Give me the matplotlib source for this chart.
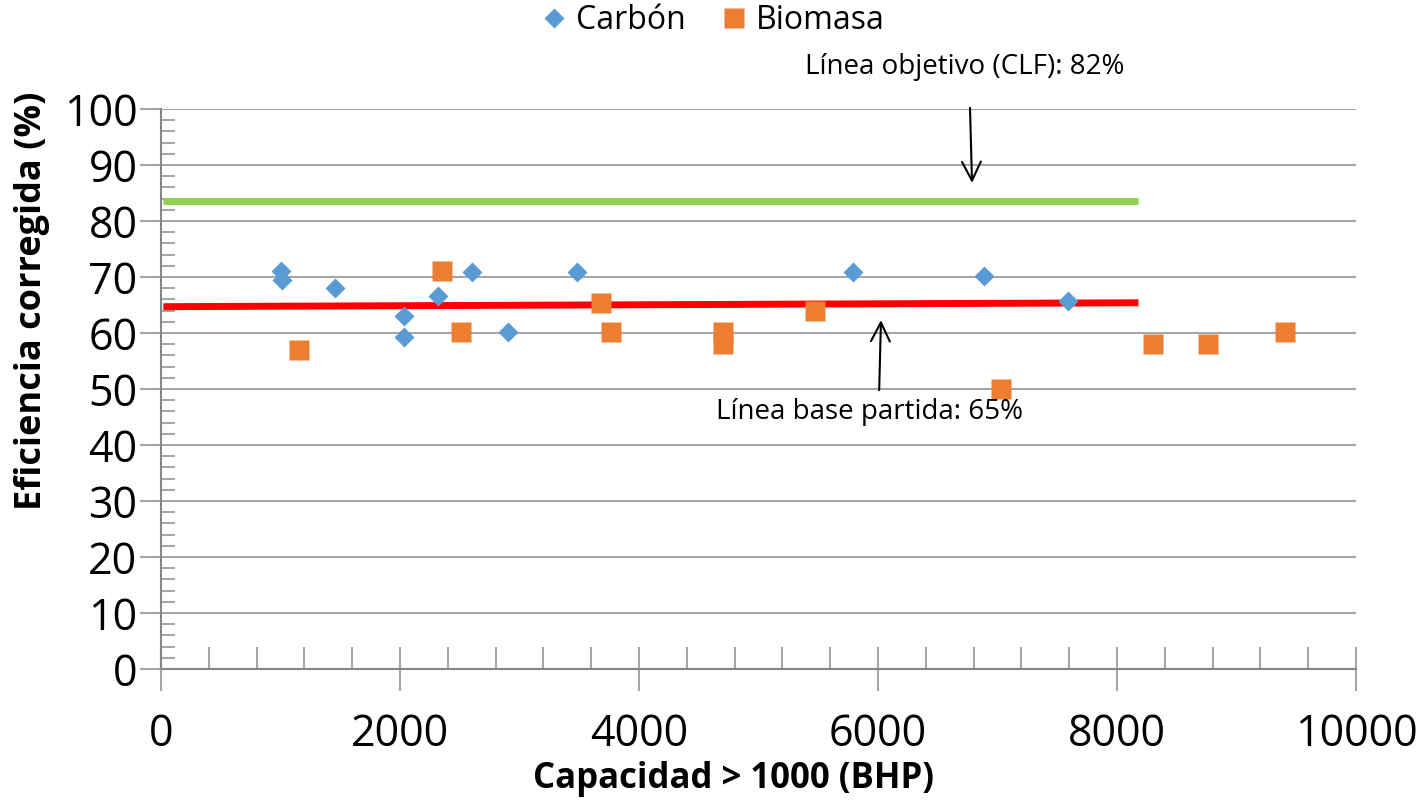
import numpy as np
import matplotlib.pyplot as plt
from matplotlib.ticker import MultipleLocator

plt.rcParams['font.family'] = ['Open Sans', 'DejaVu Sans']

# Carbón (coal) points
carbon_x = [1004, 1013, 1456, 2033, 2033, 2318, 2602, 2904, 3481, 5791, 6887, 7590]
carbon_y = [71.1, 69.5, 68.0, 63.0, 59.3, 66.6, 70.9, 60.2, 70.9, 70.9, 70.2, 65.7]

# Biomasa points
bio_x = [1152, 2349, 2510, 3679, 3766, 4706, 4706, 5470, 7032, 8304, 8764, 9409]
bio_y = [57.0, 71.1, 60.2, 65.4, 60.2, 60.2, 58.0, 64.0, 50.0, 58.0, 58.0, 60.2]

# reference lines
target_x = [20, 8180]
target_y = [83.6, 83.6]
base_x = [20, 8180]
base_y = [64.7, 65.4]

fig = plt.figure(figsize=(14.26, 8), dpi=100)
ax = fig.add_axes([0.1129, 0.16375, 0.838, 0.7])

ax.plot(target_x, target_y, color='#92D050', lw=5, solid_capstyle='butt', zorder=2)
ax.plot(base_x, base_y, color='#FF0000', lw=5, solid_capstyle='butt', zorder=2)
ax.plot(carbon_x, carbon_y, 'D', color='#5B9BD5', markersize=10, mec='none',
        label='Carbón', zorder=3)
ax.plot(bio_x, bio_y, 's', color='#ED7D31', markersize=14, mec='none',
        label='Biomasa', zorder=3)

ax.set_xlim(0, 10000)
ax.set_ylim(0, 100)
ax.xaxis.set_major_locator(MultipleLocator(2000))
ax.xaxis.set_minor_locator(MultipleLocator(400))
ax.yaxis.set_major_locator(MultipleLocator(10))
ax.yaxis.set_minor_locator(MultipleLocator(2))

ax.grid(axis='y', which='major', color='#A6A6A6', lw=1.5)
ax.set_axisbelow(True)
for s in ['top', 'right']:
    ax.spines[s].set_visible(False)
for s in ['left', 'bottom']:
    ax.spines[s].set_color('#868686')
    ax.spines[s].set_linewidth(1.5)

ax.tick_params(axis='y', which='major', direction='out', length=15, width=1.5,
               color='#A6A6A6', labelsize=31, pad=2)
ax.tick_params(axis='y', which='minor', direction='in', length=10, width=1.5,
               color='#A6A6A6')
ax.tick_params(axis='x', which='major', direction='inout', length=32, width=1.5,
               color='#A6A6A6', labelsize=31, pad=15)
ax.tick_params(axis='x', which='minor', direction='in', length=16, width=1.5,
               color='#A6A6A6')

ax.set_xlabel('Capacidad > 1000 (BHP)', fontsize=25, fontweight='bold', va='center')
ax.set_ylabel('Eficiencia corregida (%)', fontsize=26, fontweight='bold', va='center')
ax.xaxis.set_label_coords(0.479, -0.197)
ax.yaxis.set_label_coords(-0.108, 0.657)

# annotations
ax.text(5389, 107.5, 'Línea objetivo (CLF): 82%', fontsize=20, ha='left',
        va='center', clip_on=False)
ax.annotate('', xy=(6787, 86.8), xytext=(6770, 100.2), annotation_clip=False,
            arrowprops=dict(arrowstyle='->', color='black', lw=1.5,
                            shrinkA=0, shrinkB=0, mutation_scale=34))
ax.annotate('', xy=(6025, 62.3), xytext=(6010, 49.8),
            arrowprops=dict(arrowstyle='->', color='black', lw=1.5,
                            shrinkA=0, shrinkB=0, mutation_scale=34))
ax.text(4644, 45.9, 'Línea base partida: 65%', fontsize=20, ha='left', va='center')

fig.legend(loc='center', bbox_to_anchor=(0.5, 0.974), ncol=2, frameon=False,
           fontsize=23, handlelength=0.8, handletextpad=0.3, columnspacing=1.1)

fig.savefig('out.png', dpi=100)
